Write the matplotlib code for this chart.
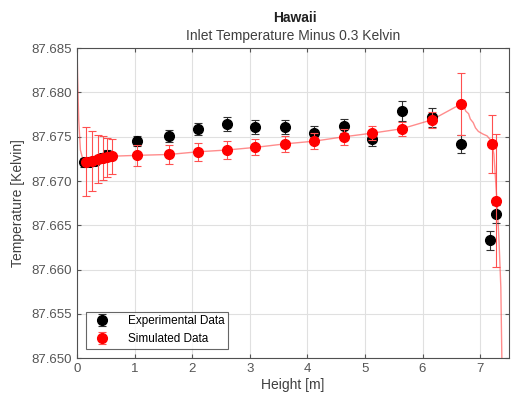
import numpy as np
import matplotlib.pyplot as plt

plt.rcParams["font.family"] = ["Liberation Sans", "DejaVu Sans"]

# Experimental data (black)
exp_x = [0.12, 0.22, 0.32, 0.42, 0.52, 1.05, 1.6, 2.1, 2.6, 3.1, 3.62, 4.12,
         4.64, 5.12, 5.64, 6.16, 6.67, 7.17, 7.27]
exp_y = [87.6721, 87.6722, 87.6723, 87.6726, 87.6729, 87.6745, 87.6751, 87.6759,
         87.6764, 87.6761, 87.6761, 87.6754, 87.6762, 87.6748, 87.6779, 87.6772,
         87.6742, 87.6633, 87.6663]
exp_err = [0.0005, 0.0005, 0.0005, 0.0005, 0.0006, 0.0006, 0.0007, 0.0007,
           0.0008, 0.0008, 0.0008, 0.0008, 0.0008, 0.0009, 0.0011, 0.0011,
           0.0010, 0.0011, 0.0010]

# Simulated data (red)
sim_x = [0.155, 0.26, 0.36, 0.45, 0.53, 0.60, 1.05, 1.6, 2.1, 2.6, 3.1, 3.62,
         4.12, 4.64, 5.12, 5.64, 6.16, 6.67, 7.2, 7.27]
sim_y = [87.6722, 87.6723, 87.6725, 87.6726, 87.6727, 87.6728, 87.6729, 87.6730,
         87.6733, 87.6735, 87.6738, 87.6742, 87.6745, 87.6750, 87.6754, 87.6759,
         87.6769, 87.6787, 87.6742, 87.6678]
sim_err = [0.0039, 0.0034, 0.0027, 0.0025, 0.0022, 0.0020, 0.0012, 0.0011,
           0.0010, 0.0010, 0.0009, 0.0009, 0.0009, 0.0009, 0.0008, 0.0008,
           0.0009, 0.0035, 0.0033, 0.0075]

# Simulated continuous profile
line_x = [0.0, 0.01, 0.03, 0.06, 0.1, 0.155, 0.3, 0.6, 1.05, 1.6, 2.1, 2.6, 3.1,
          3.62, 4.12, 4.64, 5.12, 5.64, 6.16, 6.67, 6.72, 6.75, 6.8, 6.83, 6.88,
          6.92, 6.97, 7.05, 7.12, 7.2, 7.24, 7.27, 7.3, 7.33, 7.36, 7.38]
line_y = [87.686, 87.682, 87.677, 87.6735, 87.6725, 87.6722, 87.6724, 87.6728,
          87.6729, 87.6730, 87.6733, 87.6735, 87.6738, 87.6742, 87.6745, 87.6750,
          87.6754, 87.6759, 87.6769, 87.6787, 87.6785, 87.6779, 87.6776, 87.6770,
          87.6766, 87.6760, 87.6756, 87.6753, 87.6751, 87.6745, 87.6730, 87.6700,
          87.6670, 87.6630, 87.6580, 87.6490]

fig = plt.figure(figsize=(5.13, 3.98), dpi=100)
ax = fig.add_axes([0.150, 0.100, 0.842, 0.779])

ax.plot(line_x, line_y, color="#ff4040", lw=1.0, alpha=0.6, zorder=2)
ax.errorbar(exp_x, exp_y, yerr=exp_err, fmt="o", color="black", ecolor="#303030",
            elinewidth=0.8, capsize=3, capthick=0.8, markersize=7,
            label="Experimental Data", zorder=3)
ax.errorbar(sim_x, sim_y, yerr=sim_err, fmt="o", color="red", ecolor="#ff5050",
            elinewidth=0.8, capsize=3, capthick=0.8, markersize=7,
            label="Simulated Data", zorder=4)

ax.set_xlim(0, 7.5)
ax.set_ylim(87.650, 87.685)
ax.set_xticks(np.arange(0, 8, 1))
ax.set_yticks(np.arange(87.650, 87.6851, 0.005))
ax.yaxis.set_major_formatter(plt.FormatStrFormatter("%.3f"))
ax.tick_params(direction="in", labelsize=9.5, colors="#555555", length=3,
               top=True, right=True)
ax.grid(True, color="#e0e0e0", lw=0.8)
for s in ax.spines.values():
    s.set_color("#505050")
    s.set_linewidth(0.8)

ax.set_xlabel("Height [m]", fontsize=10, color="#404040", labelpad=2)
ax.set_ylabel("Temperature [Kelvin]", fontsize=10, color="#404040", labelpad=5)
ax.set_title("Inlet Temperature Minus 0.3 Kelvin", fontsize=10, color="#404040", pad=6)
fig.text(0.575, 0.955, "Hawaii", ha="center", va="center", fontsize=10,
         fontweight="bold", color="#202020")

leg = ax.legend(loc="lower left", fontsize=8.5, frameon=True, fancybox=False,
                edgecolor="#404040", borderaxespad=0.8, handletextpad=1.2,
                borderpad=0.3)
leg.get_frame().set_linewidth(0.8)

fig.savefig("out.png", dpi=100)
